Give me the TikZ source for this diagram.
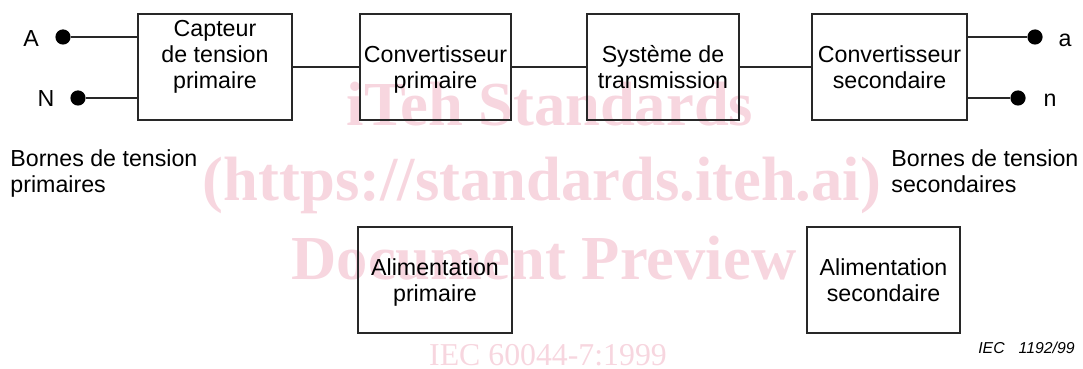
\documentclass[tikz,border=0pt]{standalone}
\usepackage{fontspec}
\setmainfont{Liberation Sans}
\newfontfamily\wmfont{Liberation Serif}
\definecolor{wmpink}{RGB}{247,214,223}
\definecolor{linegray}{RGB}{40,40,40}
\begin{document}
\begin{tikzpicture}[x=0.5pt,y=-0.5pt,
  box/.style={draw=linegray,line width=0.6pt,inner sep=0pt,minimum height=53pt},
  txt/.style={anchor=base,inner sep=0pt,font=\fontsize{11.6}{13}\selectfont},
  ltxt/.style={anchor=base west,inner sep=0pt,font=\fontsize{11.6}{13}\selectfont},
  term/.style={circle,fill=black,inner sep=0pt,minimum size=7.6pt},
  wire/.style={draw=linegray,line width=0.6pt},
  wm/.style={text=wmpink,inner sep=0pt,anchor=base,font=\wmfont\fontsize{31.3}{31.3}\selectfont\bfseries}]
\useasboundingbox (0,0) rectangle (1083,369);
% watermark
\node[wm] (w1) at (550,126) {iTeh Standards};
\node[wm] (w2) at (542,200) {(https://standards.iteh.ai)};
\node[wm] (w3) at (544,279) {Document Preview};
\node[wm,font=\wmfont\fontsize{15.9}{15.9}\selectfont] (w4) at (548,365) {IEC 60044-7:1999};
% boxes
\node[box,minimum width=77pt] (b1) at (215,67) {};
\node[box,minimum width=75.5pt] (b2) at (435.5,67) {};
\node[box,minimum width=76pt] (b3) at (663,67) {};
\node[box,minimum width=77.5pt] (b4) at (889.5,67) {};
\node[box,minimum width=77pt] (p1) at (435,280) {};
\node[box,minimum width=76.5pt] (p2) at (883.5,280) {};
% box texts
\node[txt] (t1) at (215,37) {\begin{tabular}[t]{@{}c@{}}Capteur\\de tension\\primaire\end{tabular}};
\node[txt] (t2) at (435.5,63) {\begin{tabular}[t]{@{}c@{}}Convertisseur\\primaire\end{tabular}};
\node[txt] (t3) at (663,63) {\begin{tabular}[t]{@{}c@{}}Système de\\transmission\end{tabular}};
\node[txt] (t4) at (889.5,63) {\begin{tabular}[t]{@{}c@{}}Convertisseur\\secondaire\end{tabular}};
\node[txt] (t5) at (435,276) {\begin{tabular}[t]{@{}c@{}}Alimentation\\primaire\end{tabular}};
\node[txt] (t6) at (883.5,276) {\begin{tabular}[t]{@{}c@{}}Alimentation\\secondaire\end{tabular}};
% chain
\draw[wire] (b1.east) -- (b2.west);
\draw[wire] (b2.east) -- (b3.west);
\draw[wire] (b3.east) -- (b4.west);
% terminals
\node[term] (tA) at (63,37) {};
\node[term] (tN) at (78,98) {};
\node[term] (ta) at (1035,37) {};
\node[term] (tn) at (1018,98) {};
\draw[wire] (tA) -- (b1.west |- tA);
\draw[wire] (tN) -- (b1.west |- tN);
\draw[wire] (b4.east |- ta) -- (ta);
\draw[wire] (b4.east |- tn) -- (tn);
\node[txt] (lA) at (31,47) {A};
\node[txt] (lN) at (46,107) {N};
\node[txt] (la) at (1065,47) {a};
\node[txt] (ln) at (1050,107) {n};
% terminal captions
\node[ltxt] (bp) at (10,167) {\begin{tabular}[t]{@{}l@{}}Bornes de tension\\primaires\end{tabular}};
\node[ltxt] (bs) at (891,167) {\begin{tabular}[t]{@{}l@{}}Bornes de tension\\secondaires\end{tabular}};
% figure number
\node[anchor=base east,inner sep=0pt,font=\fontsize{7.9}{8}\selectfont\itshape] (fig) at (1075,353) {IEC\hspace{7pt}1192/99};
\end{tikzpicture}
\end{document}
